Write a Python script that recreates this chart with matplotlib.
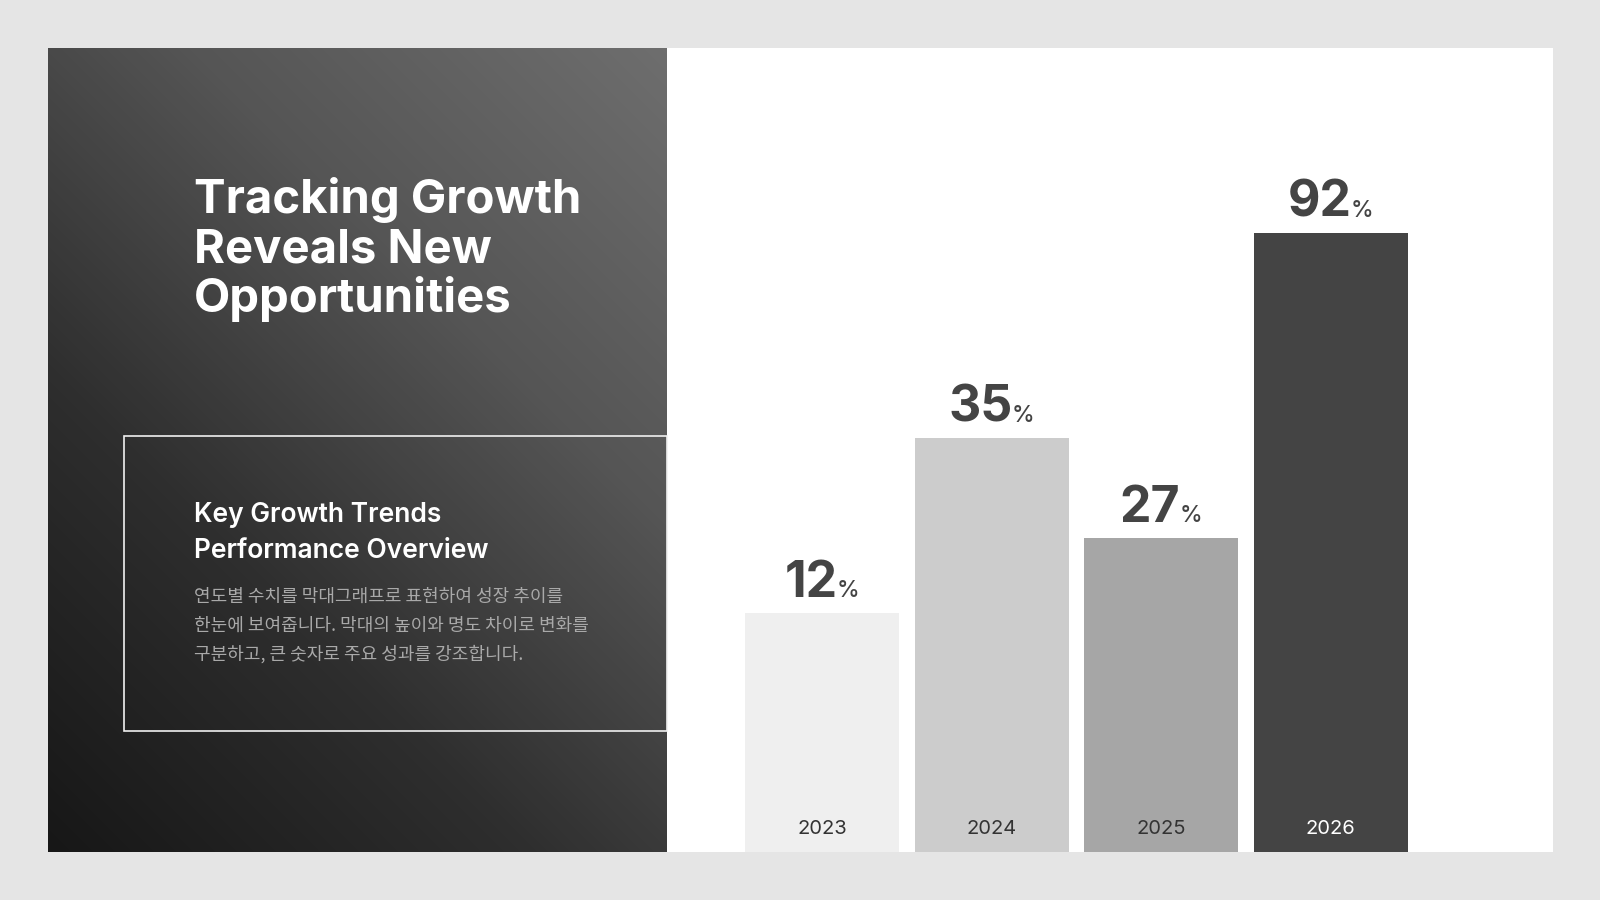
import numpy as np
import matplotlib
matplotlib.use("Agg")
import matplotlib.pyplot as plt
from matplotlib.patches import Rectangle
from matplotlib.colors import LinearSegmentedColormap

# ---------------- data ----------------
years = ["2023", "2024", "2025", "2026"]
values = [12, 35, 27, 92]                      # displayed percentages
bar_heights = [29.7, 51.5, 39.1, 77.0]         # drawn height, % of chart height
bar_colors = ["#efefef", "#cccccc", "#a6a6a6", "#444444"]
year_colors = ["#333333", "#333333", "#333333", "#ffffff"]

title_lines = ["Tracking Growth", "Reveals New", "Opportunities"]
subtitle_lines = ["Key Growth Trends", "Performance Overview"]
body_lines = ["연도별 수치를 막대그래프로 표현하여 성장 추이를",
              "한눈에 보여줍니다. 막대의 높이와 명도 차이로 변화를",
              "구분하고, 큰 숫자로 주요 성과를 강조합니다."]

W, H = 1600, 900
fig = plt.figure(figsize=(16, 9), dpi=100)
fig.patch.set_facecolor("#e5e5e5")

bg = fig.add_axes([0, 0, 1, 1])
bg.set_xlim(0, W)
bg.set_ylim(H, 0)
bg.axis("off")

# card
card_l, card_r, card_t, card_b = 48, 1553, 48, 852
panel_r = 667
bg.add_patch(Rectangle((card_l, card_t), card_r - card_l, card_b - card_t,
                       facecolor="white", edgecolor="none", zorder=0))

# gradient panel (45deg: dark bottom-left -> light top-right)
pw, ph = panel_r - card_l, card_b - card_t
xx, yy = np.meshgrid(np.arange(pw), np.arange(ph))
t = (xx + (ph - yy)) / (pw + ph)
cmap = LinearSegmentedColormap.from_list("g", ["#171717", "#2e2e2e", "#555555", "#6e6e6e"])
bg.imshow(t, cmap=cmap, extent=(card_l, panel_r, card_b, card_t), aspect="auto",
          zorder=1, interpolation="bilinear")

# outline box
bg.add_patch(Rectangle((123.5, 436), panel_r - 123.5, 731 - 436, facecolor="none",
                       edgecolor="#f0f0f0", linewidth=1.2, zorder=3))

# title
for i, line in enumerate(title_lines):
    bg.text(194, 213 + i * 49.5, line, fontfamily="Inter", fontweight="bold",
            fontsize=34, color="white", ha="left", va="baseline", zorder=4)

for i, line in enumerate(subtitle_lines):
    bg.text(194, 522 + i * 36, line, fontfamily="Inter", fontweight="semibold",
            fontsize=19, color="white", ha="left", va="baseline", zorder=4)

for i, line in enumerate(body_lines):
    bg.text(194, 597 + i * 28.5, line, fontfamily=["Noto Sans CJK KR", "DejaVu Sans"],
            fontweight="light", fontsize=13, color="#a9a9a9", ha="left",
            va="center", zorder=4)

# ---------------- bars ----------------
ax = fig.add_axes([panel_r / W, (H - card_b) / H, (card_r - panel_r) / W, (card_b - card_t) / H])
ax.patch.set_alpha(0)
ax.axis("off")
step = 169.5
c0 = 822
ax.set_xlim(-(c0 - panel_r) / step, (card_r - c0) / step)
ax.set_ylim(0, 100)
x = np.arange(len(years))
ax.bar(x, bar_heights, width=154 / step, color=bar_colors, edgecolor="none", zorder=2)

for i, yr in enumerate(years):
    ax.text(i, 23 / 804, yr, transform=ax.get_xaxis_transform(), fontfamily="Inter",
            fontsize=14.5, color=year_colors[i], ha="center", va="center", zorder=3)

nums, pcts = [], []
for i, v in enumerate(values):
    n = ax.annotate(str(v), xy=(i, bar_heights[i]), xytext=(0, 16), textcoords="offset pixels",
                    fontfamily="Inter", fontweight="bold", fontsize=36, color="#444444",
                    ha="left", va="baseline", zorder=3)
    p = ax.annotate("%", xy=(i, bar_heights[i]), xytext=(0, 16), textcoords="offset pixels",
                    fontfamily="Inter", fontweight="medium", fontsize=16.5, color="#444444",
                    ha="left", va="baseline", zorder=3)
    nums.append(n)
    pcts.append(p)

fig.canvas.draw()
r = fig.canvas.get_renderer()
gap = -1
for n, p in zip(nums, pcts):
    w1 = n.get_window_extent(r).width
    w2 = p.get_window_extent(r).width
    tot = w1 + gap + w2
    n.xyann = (-tot / 2, 16)
    p.xyann = (-tot / 2 + w1 + gap, 16)

fig.savefig("out.png", dpi=100, facecolor=fig.get_facecolor())
